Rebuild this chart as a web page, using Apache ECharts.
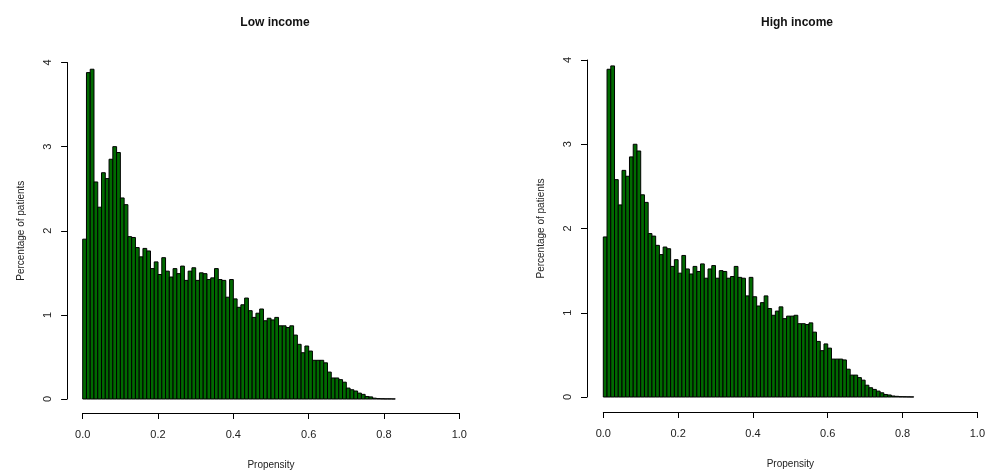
<!DOCTYPE html>
<html>
<head>
<meta charset="utf-8">
<title>Propensity histograms</title>
<script src="https://cdn.jsdelivr.net/npm/echarts@6/dist/echarts.min.js"></script>
<style>
  html, body { margin: 0; padding: 0; background: #fff; }
  #chart { width: 988px; height: 475px; }
</style>
</head>
<body>
<div id="chart"></div>
<script>
// histogram bins are 0.01 wide, starting at 0.0
var binWidth = 0.01;
var xTicks = [0, 0.2, 0.4, 0.6, 0.8, 1.0];
var yTicks = [0, 1, 2, 3, 4];
var panelTitles = ['Low income', 'High income'];

// percentage of patients per bin
var lowIncome = [
  1.90, 3.88, 3.92, 2.58, 2.28, 2.69, 2.62, 2.85, 3.00, 2.93,
  2.39, 2.31, 1.93, 1.92, 1.80, 1.69, 1.79, 1.76, 1.55, 1.63,
  1.48, 1.68, 1.52, 1.45, 1.55, 1.49, 1.58, 1.41, 1.52, 1.56,
  1.41, 1.50, 1.49, 1.42, 1.44, 1.55, 1.42, 1.41, 1.21, 1.42,
  1.19, 1.09, 1.12, 1.20, 1.05, 0.97, 1.02, 1.07, 0.93, 0.96,
  0.94, 0.97, 0.87, 0.87, 0.85, 0.87, 0.76, 0.65, 0.55, 0.63,
  0.57, 0.46, 0.46, 0.46, 0.43, 0.32, 0.25, 0.25, 0.23, 0.20,
  0.13, 0.11, 0.095, 0.07, 0.055, 0.03, 0.025, 0.01, 0.005, 0.003,
  0.002, 0.002, 0.001
];
var highIncome = [
  1.90, 3.89, 3.93, 2.58, 2.28, 2.69, 2.62, 2.85, 3.00, 2.92,
  2.40, 2.31, 1.94, 1.91, 1.80, 1.69, 1.78, 1.76, 1.55, 1.63,
  1.47, 1.68, 1.52, 1.46, 1.55, 1.49, 1.58, 1.41, 1.52, 1.56,
  1.41, 1.50, 1.49, 1.41, 1.43, 1.55, 1.42, 1.41, 1.20, 1.42,
  1.19, 1.08, 1.12, 1.20, 1.05, 0.97, 1.02, 1.07, 0.93, 0.96,
  0.96, 0.97, 0.87, 0.87, 0.86, 0.88, 0.77, 0.66, 0.55, 0.63,
  0.58, 0.45, 0.45, 0.45, 0.44, 0.33, 0.26, 0.26, 0.23, 0.20,
  0.14, 0.11, 0.09, 0.07, 0.05, 0.03, 0.024, 0.012, 0.008, 0.004,
  0.003, 0.002, 0.001
];

var chart = echarts.init(document.getElementById('chart'));
var fontFamily = '"Liberation Sans", Arial, sans-serif';
var textColor = '#222';

function histData(values) {
  var out = [];
  for (var i = 0; i < values.length; i++) {
    out.push([i * binWidth, (i + 1) * binWidth, values[i]]);
  }
  return out;
}

function renderBar(params, api) {
  var p0 = api.coord([api.value(0), api.value(2)]);
  var p1 = api.coord([api.value(1), 0]);
  return {
    type: 'rect',
    shape: { x: p0[0], y: p0[1], width: p1[0] - p0[0], height: p1[1] - p0[1] },
    style: { fill: '#006a00', stroke: '#000', lineWidth: 1 }
  };
}

function makeXAxis(idx, offset) {
  return {
    type: 'value', gridIndex: idx, min: 0, max: 1, interval: 0.2,
    offset: offset,
    name: 'Propensity', nameLocation: 'middle', nameGap: 47,
    nameTextStyle: { color: textColor, fontSize: 10, fontFamily: fontFamily },
    axisLine: { show: true, onZero: false, lineStyle: { color: '#000', width: 1 } },
    axisTick: { show: true, length: 6, lineStyle: { color: '#000' } },
    axisLabel: {
      color: textColor, fontSize: 11, fontFamily: fontFamily, margin: 16,
      showMinLabel: true, showMaxLabel: true,
      formatter: function (v) { return v.toFixed(1); }
    },
    splitLine: { show: false }
  };
}

function makeYAxis(idx, offset) {
  return {
    type: 'value', gridIndex: idx, min: 0, max: 4, interval: 1,
    offset: offset,
    name: 'Percentage of patients', nameLocation: 'middle', nameGap: 41, nameRotate: 90,
    nameTextStyle: { color: textColor, fontSize: 10, fontFamily: fontFamily },
    axisLine: { show: true, onZero: false, lineStyle: { color: '#000', width: 1 } },
    axisTick: { show: true, length: 6, lineStyle: { color: '#000' } },
    axisLabel: {
      color: textColor, fontSize: 11, fontFamily: fontFamily, margin: 14, rotate: 90
    },
    splitLine: { show: false }
  };
}

var option = {
  backgroundColor: '#fff',
  animation: false,
  title: [
    { text: panelTitles[0], left: 270, top: 12, textAlign: 'center',
      textStyle: { fontSize: 12, fontWeight: 'bold', color: '#111', fontFamily: fontFamily } },
    { text: panelTitles[1], left: 792, top: 12, textAlign: 'center',
      textStyle: { fontSize: 12, fontWeight: 'bold', color: '#111', fontFamily: fontFamily } }
  ],
  grid: [
    { left: 82.7, top: 62.5, width: 376.6, height: 336.5 },
    { left: 603.3, top: 60, width: 377, height: 337 }
  ],
  xAxis: [makeXAxis(0, 14), makeXAxis(1, 15)],
  yAxis: [makeYAxis(0, 15.6), makeYAxis(1, 16.3)],
  series: [
    { type: 'custom', name: panelTitles[0], xAxisIndex: 0, yAxisIndex: 0,
      renderItem: renderBar, encode: { x: [0, 1], y: 2 }, data: histData(lowIncome) },
    { type: 'custom', name: panelTitles[1], xAxisIndex: 1, yAxisIndex: 1,
      renderItem: renderBar, encode: { x: [0, 1], y: 2 }, data: histData(highIncome) }
  ]
};

chart.setOption(option);
</script>
</body>
</html>
